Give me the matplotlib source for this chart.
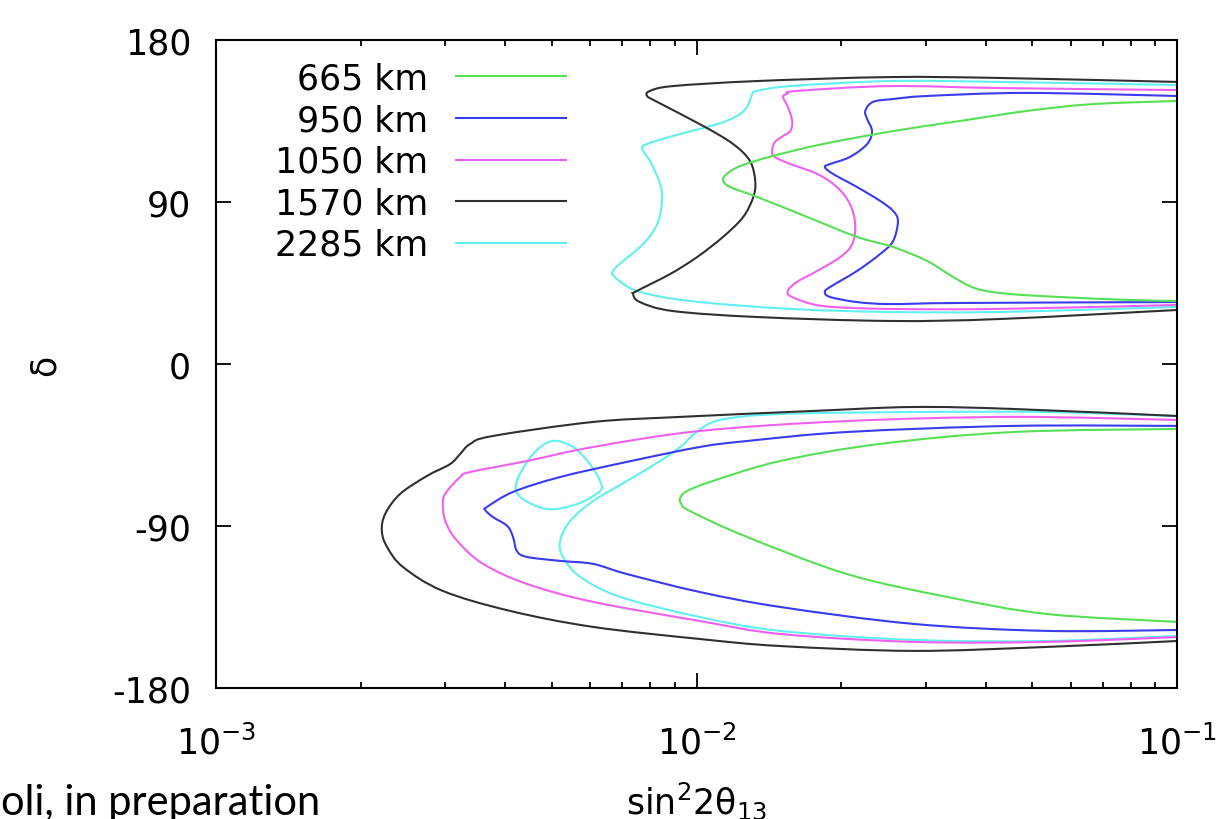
import numpy as np
import matplotlib
matplotlib.use("Agg")
import matplotlib.pyplot as plt
from matplotlib.ticker import LogLocator, FixedLocator
from matplotlib.path import Path
from matplotlib.patches import PathPatch
from matplotlib.lines import Line2D

plt.rcParams['font.family'] = ['DejaVu Sans']
plt.rcParams['mathtext.fontset'] = 'dejavusans'
plt.rcParams['axes.unicode_minus'] = False

# log10(sin^2 2theta13) and delta (deg) along each contour
# 665 km
lg_665_up = [-1.0, -1.175, -1.312, -1.452, -1.591, -1.737, -1.841, -1.909, -1.937, -1.945,
             -1.930, -1.874, -1.770, -1.666, -1.591, -1.520, -1.466, -1.416, -1.348, -1.243, -1.104, -1.0]
d_665_up = [146.1, 144.4, 140.6, 135.0, 129.4, 122.2, 115.6, 110.0, 105.6, 102.2,
            98.3, 92.8, 81.7, 70.6, 65.0, 57.2, 48.3, 41.7, 38.9, 37.2, 35.6, 35.0]
lg_665_dn = [-1.0, -1.341, -1.618, -1.826, -1.966, -2.020, -2.034, -2.032, -2.014,
             -1.895, -1.687, -1.479, -1.271, -1.0]
d_665_dn = [-36.1, -37.8, -44.4, -53.9, -65.0, -70.6, -74.4, -77.5, -81.7,
            -96.1, -116.7, -129.4, -138.9, -143.3]

# 950 km
lg_950_up = [-1.0, -1.312, -1.520, -1.591, -1.633, -1.649, -1.645, -1.635, -1.645, -1.681,
             -1.722, -1.733, -1.716, -1.666, -1.618, -1.591, -1.581, -1.591, -1.618, -1.666,
             -1.722, -1.733, -1.722, -1.666, -1.597, -1.452, -1.0]
d_950_up = [148.9, 150.6, 148.9, 147.2, 145.6, 140.6, 136.1, 129.4, 122.2, 115.0,
            111.1, 109.4, 105.6, 98.3, 90.6, 85.0, 79.4, 68.3, 61.1, 51.7,
            42.8, 40.0, 37.2, 34.4, 33.3, 33.9, 34.4]
lg_950_dn = [-1.0, -1.341, -1.687, -1.895, -1.993, -2.145, -2.284, -2.382, -2.436, -2.440,
             -2.424, -2.394, -2.382, -2.374, -2.353, -2.284, -2.215, -2.145, -1.993, -1.826,
             -1.549, -1.271, -1.0]
d_950_dn = [-34.4, -34.4, -37.8, -42.8, -46.1, -54.4, -62.8, -71.1, -79.4, -81.1,
            -85.0, -90.0, -96.1, -103.9, -107.2, -109.4, -111.1, -116.7, -126.7, -135.0,
            -144.4, -148.3, -147.8]

# 1050 km
lg_1050_up = [-1.0, -1.368, -1.597, -1.791, -1.812, -1.820, -1.810, -1.801, -1.805, -1.820,
              -1.837, -1.843, -1.837, -1.805, -1.749, -1.708, -1.681, -1.670, -1.676, -1.701,
              -1.749, -1.791, -1.810, -1.801, -1.737, -1.597, -1.368, -1.0]
d_1050_up = [152.2, 153.3, 154.4, 151.7, 150.0, 148.3, 142.8, 135.0, 129.4, 126.7,
             123.3, 118.3, 115.0, 111.1, 105.6, 98.3, 88.9, 77.8, 66.7, 59.4,
             51.7, 45.6, 40.6, 37.2, 32.2, 30.6, 30.6, 32.8]
lg_1050_dn = [-1.0, -1.341, -1.687, -1.993, -2.215, -2.353, -2.471, -2.492, -2.519, -2.528,
              -2.523, -2.498, -2.444, -2.353, -2.215, -1.993, -1.826, -1.549, -1.271, -1.0]
d_1050_dn = [-31.1, -29.4, -31.7, -37.2, -46.1, -53.9, -60.0, -62.8, -70.6, -76.1,
             -87.2, -98.3, -111.1, -122.2, -132.2, -142.8, -150.0, -154.4, -154.4, -151.7]

# 1570 km
lg_1570_up = [-1.0, -1.368, -1.597, -1.874, -2.049, -2.097, -2.103, -2.082, -1.986, -1.924,
              -1.889, -1.878, -1.882, -1.903, -1.945, -1.999, -2.055, -2.124, -2.132, -2.118,
              -2.049, -1.874, -1.597, -1.368, -1.0]
d_1570_up = [156.7, 158.9, 159.4, 157.2, 154.4, 151.7, 148.9, 145.6, 132.2, 122.2,
             112.8, 101.7, 92.8, 81.7, 70.6, 59.4, 50.0, 40.6, 38.9, 34.4,
             29.4, 26.1, 23.9, 25.0, 30.0]
lg_1570_dn = [-1.0, -1.341, -1.549, -1.758, -2.034, -2.215, -2.424, -2.471, -2.492, -2.513,
              -2.561, -2.617, -2.648, -2.655, -2.644, -2.611, -2.528, -2.388, -2.215, -1.993,
              -1.826, -1.549, -1.271, -1.0]
d_1570_dn = [-28.9, -25.0, -23.9, -26.1, -29.4, -32.2, -40.0, -44.4, -50.0, -55.6,
             -62.2, -72.2, -83.3, -92.8, -101.7, -112.8, -126.1, -137.2, -146.1, -152.8,
             -156.7, -159.4, -157.2, -153.9]

# 2285 km
lg_2285_up = [-1.0, -1.368, -1.597, -1.805, -1.874, -1.884, -1.895, -1.916, -1.957, -2.049,
              -2.103, -2.113, -2.097, -2.076, -2.072, -2.082, -2.111, -2.153, -2.174, -2.170,
              -2.124, -2.014, -1.805, -1.597, -1.368, -1.0]
d_2285_up = [155.0, 156.7, 157.2, 154.4, 151.7, 150.0, 142.8, 137.8, 133.3, 126.7,
             122.2, 119.4, 112.8, 100.0, 90.6, 77.8, 66.7, 57.2, 51.7, 48.3,
             40.6, 35.0, 30.6, 28.9, 28.9, 31.7]
lg_2285_dn = [-1.0, -1.271, -1.549, -1.826, -1.951, -2.000, -2.034, -2.076, -2.145, -2.215,
              -2.263, -2.284, -2.278, -2.242, -2.159, -1.993, -1.826, -1.549, -1.271, -1.0]
d_2285_dn = [-28.9, -26.7, -26.7, -27.8, -31.1, -37.8, -46.1, -53.9, -65.0, -76.1,
             -87.2, -98.3, -107.2, -118.3, -129.4, -140.6, -148.3, -153.3, -153.9, -151.1]
# small closed island of the 2285 km contour
lg_2285_isl = [-2.301, -2.340, -2.374, -2.367, -2.311, -2.249, -2.201, -2.201, -2.222, -2.257, -2.301]
d_2285_isl = [-42.8, -50.0, -65.0, -73.9, -80.6, -77.8, -70.6, -65.0, -55.6, -46.1, -42.8]

baselines = ['665 km', '950 km', '1050 km', '1570 km', '2285 km']
colors = ['#55e055', '#3a3aee', '#f060f0', '#303030', '#60f0f0']

contours = {
    '665 km': [(lg_665_up, d_665_up), (lg_665_dn, d_665_dn)],
    '950 km': [(lg_950_up, d_950_up), (lg_950_dn, d_950_dn)],
    '1050 km': [(lg_1050_up, d_1050_up), (lg_1050_dn, d_1050_dn)],
    '1570 km': [(lg_1570_up, d_1570_up), (lg_1570_dn, d_1570_dn)],
    '2285 km': [(lg_2285_up, d_2285_up), (lg_2285_dn, d_2285_dn), (lg_2285_isl, d_2285_isl)],
}


def smooth_path(lg, d):
    # Catmull-Rom through the contour points, as cubic Bezier segments in log-x space
    p = np.column_stack([lg, d]).astype(float)
    n = len(p)
    closed = np.allclose(p[0], p[-1])
    verts = [p[0]]
    codes = [Path.MOVETO]
    for i in range(n - 1):
        if i > 0:
            p0 = p[i - 1]
        else:
            p0 = p[-2] if closed else p[0]
        if i + 2 < n:
            p3 = p[i + 2]
        else:
            p3 = p[1] if closed else p[-1]
        p1, p2 = p[i], p[i + 1]
        verts += [p1 + (p2 - p0) / 6, p2 - (p3 - p1) / 6, p2]
        codes += [Path.CURVE4] * 3
    verts = np.array(verts)
    verts[:, 0] = 10 ** verts[:, 0]
    return Path(verts, codes)


fig = plt.figure(figsize=(12.29, 8.2), dpi=100)
ax = fig.add_axes([0.1758, 0.1598, 0.7820, 0.7902])

# draw in reverse so the green curve ends up on top
for name, col in reversed(list(zip(baselines, colors))):
    for lg, d in contours[name]:
        ax.add_patch(PathPatch(smooth_path(lg, d), fill=False, ec=col, lw=1.5))

ax.set_xscale('log')
ax.set_xlim(1e-3, 1e-1)
ax.set_ylim(-180, 180)
ax.yaxis.set_major_locator(FixedLocator([-180, -90, 0, 90, 180]))
ax.xaxis.set_major_locator(LogLocator(base=10, numticks=10))
ax.xaxis.set_minor_locator(LogLocator(base=10, subs=np.arange(2, 10), numticks=20))

ax.tick_params(which='both', direction='in', top=True, right=True,
               labelsize=25, width=1.3)
ax.tick_params(which='major', length=10.5)
ax.tick_params(which='minor', length=4.5)
ax.tick_params(axis='y', pad=18)
ax.tick_params(axis='x', pad=26)
for s in ax.spines.values():
    s.set_linewidth(1.5)

ax.set_xlabel('sin$^{2}$2θ$_{13}$', fontsize=25, labelpad=14)
ax.set_ylabel('δ', fontsize=25, labelpad=36)

handles = [Line2D([], [], color=c, lw=1.5) for c in colors]
ax.legend(handles, baselines,
          loc='upper right', bbox_to_anchor=(0.364, 0.967), frameon=False,
          markerfirst=False, fontsize=25, handlelength=3.17, handletextpad=0.8,
          labelspacing=0.22, borderpad=0, borderaxespad=0)

fig.text(1 / 1229, 1 - 803 / 820, 'oli, in preparation', ha='left', va='center',
         fontsize=30, family=['Lato', 'DejaVu Sans'])

fig.savefig('out.png', dpi=100)
